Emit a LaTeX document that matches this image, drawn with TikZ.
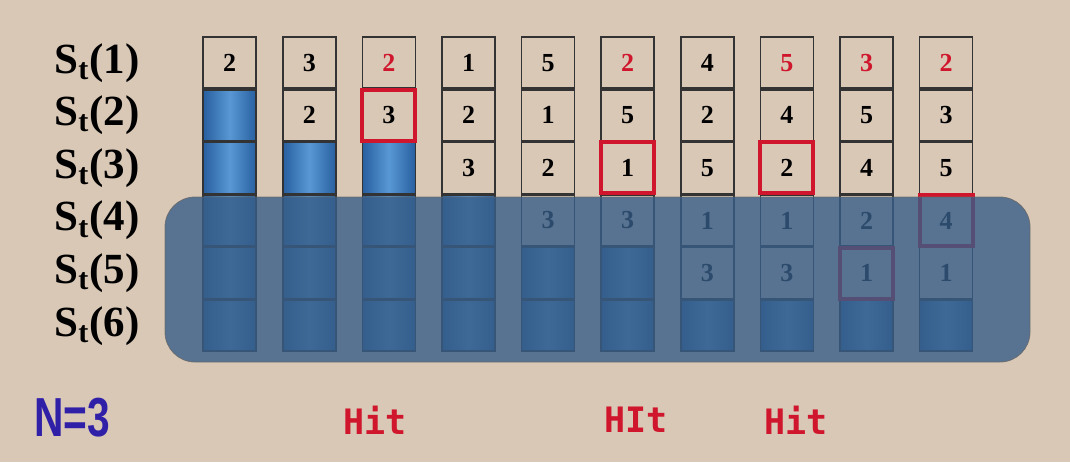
\documentclass[tikz,border=0pt]{standalone}
\usepackage{fontspec}
\setmainfont{Liberation Serif}
\newfontfamily\hitfont{DejaVu Sans Mono}
\newfontfamily\nfont{Liberation Sans}
\usetikzlibrary{matrix,positioning}

\definecolor{bgbeige}{RGB}{217,200,182}
\definecolor{hitred}{RGB}{208,22,44}
\definecolor{maskblue}{RGB}{56,94,136}
\definecolor{celledge}{RGB}{40,95,160}
\definecolor{cellmid}{RGB}{88,152,212}
\definecolor{nblue}{RGB}{48,32,168}

\begin{document}
\begin{tikzpicture}
  [x=0.5pt,y=-0.5pt,
  cell/.style={rectangle, draw=black!80, line width=0.8pt,
    minimum width=26.5pt, minimum height=25.5pt, inner sep=0pt,
    outer sep=0pt, anchor=center,
    font=\fontsize{13}{13}\selectfont\bfseries},
  bluecell/.style={cell, left color=celledge, right color=celledge,
    middle color=cellmid},
  redtxt/.style={text=hitred},
  hitbox/.style={draw=hitred, line width=2pt},
  mask/.style={draw=black!60, fill=maskblue, fill opacity=0.8,
    draw opacity=0.8, rounded corners=15pt},
  rowlbl/.style={font=\fontsize{21.5}{22}\selectfont\bfseries,
    inner sep=0pt, anchor=east},
  hitlbl/.style={font=\fontsize{17.5}{18}\selectfont\hitfont\bfseries,
    text=hitred},
  nlbl/.style={font=\fontsize{27.5}{28}\selectfont\nfont\bfseries,
    text=nblue}]
  % background
  \fill[bgbeige] (0,0) rectangle (1070,462);
  \matrix (m) [matrix of nodes, nodes={cell}, nodes in empty cells,
    column sep=12.5pt, row sep=0pt, inner sep=0pt, anchor=north west]
    at (202,36) {
    % row 1
    2 & 3 & |[redtxt]| 2 & 1 & 5 & |[redtxt]| 2 & 4 & |[redtxt]| 5 &
    |[redtxt]| 3 & |[redtxt]| 2 \\
    % row 2
    |[bluecell]| {} & 2 & 3 & 2 & 1 & 5 & 2 & 4 & 5 & 3 \\
    % row 3
    |[bluecell]| {} & |[bluecell]| {} & |[bluecell]| {} & 3 & 2 & 1 &
    5 & 2 & 4 & 5 \\
    % row 4
    |[bluecell]| {} & |[bluecell]| {} & |[bluecell]| {} &
    |[bluecell]| {} & 3 & 3 & 1 & 1 & 2 & 4 \\
    % row 5
    |[bluecell]| {} & |[bluecell]| {} & |[bluecell]| {} &
    |[bluecell]| {} & |[bluecell]| {} & |[bluecell]| {} & 3 & 3 & 1 & 1 \\
    % row 6
    |[bluecell]| {} & |[bluecell]| {} & |[bluecell]| {} &
    |[bluecell]| {} & |[bluecell]| {} & |[bluecell]| {} &
    |[bluecell]| {} & |[bluecell]| {} & |[bluecell]| {} &
    |[bluecell]| {} \\
  };
  % hits
  \foreach \r/\c in {2/3,3/6,3/8,5/9,4/10}
    \draw[hitbox] (m-\r-\c.north west) rectangle (m-\r-\c.south east);
  % slots beyond N
  \draw[mask] (165,197) rectangle (1030,362);
  % row labels
  \coordinate (lblx) at (140,0);
  \foreach \r in {1,...,6}
    \node[rowlbl] (lbl\r) at (m-\r-1.west -| lblx) {S\textsubscript{t}(\r)};
  \node[nlbl] (n) at (72,418) {\scalebox{0.74}[1]{N=3}};
  \node[hitlbl] (hit1) at (375,420) {Hit};
  \node[hitlbl] (hit2) at (636,420) {HIt};
  \node[hitlbl] (hit3) at (796,420) {Hit};
\end{tikzpicture}
\end{document}
